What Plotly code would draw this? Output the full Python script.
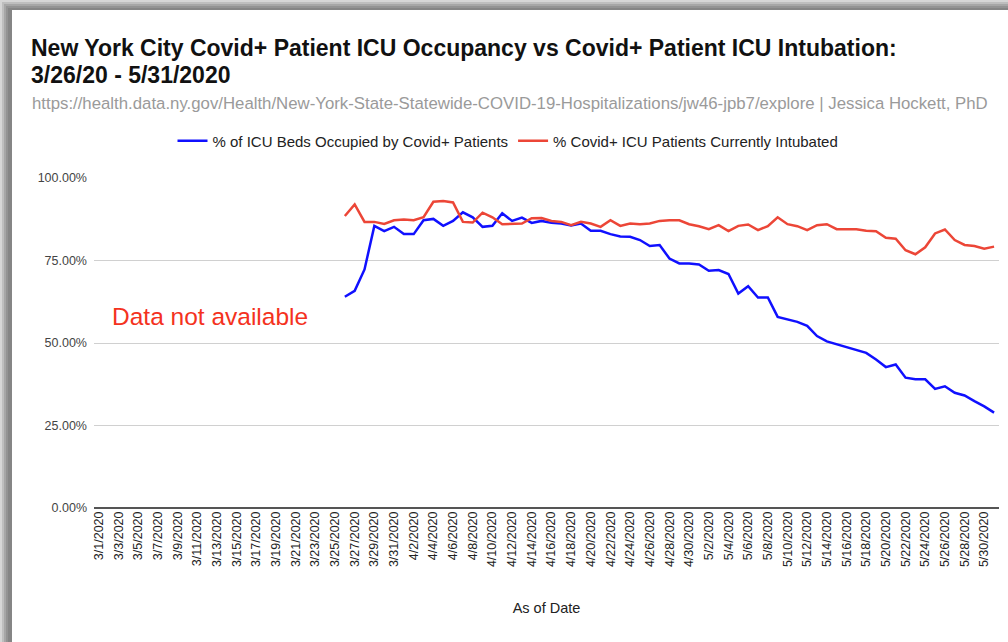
import datetime as dt
import plotly.graph_objects as go

# ---------------- data ----------------
start = dt.date(2020, 3, 1)
dates = [f"{d.month}/{d.day}/{d.year}" for d in (start + dt.timedelta(days=i) for i in range(92))]

# values from 3/26/2020 to 5/31/2020 (earlier days: data not available)
icu_occupied = [
    64.0, 65.8, 72.3, 85.5, 83.9, 85.2, 83.0, 83.0, 87.2, 87.6,   # 3/26 - 4/4
    85.5, 87.0, 89.6, 88.1, 85.2, 85.5, 89.3, 87.0, 88.0, 86.4,   # 4/5 - 4/14
    87.0, 86.4, 86.2, 85.6, 86.2, 84.0, 84.0, 83.0, 82.3, 82.2,   # 4/15 - 4/24
    81.2, 79.4, 79.7, 75.6, 74.1, 74.1, 73.8, 71.9, 72.1, 70.9,   # 4/25 - 5/4
    65.0, 67.2, 63.8, 63.8, 57.9, 57.1, 56.4, 55.2, 52.1, 50.5,   # 5/5 - 5/14
    49.6, 48.6, 47.8, 47.0, 45.0, 42.7, 43.5, 39.5, 39.0, 39.0,   # 5/15 - 5/24
    36.1, 36.9, 34.9, 34.1, 32.4, 30.8, 28.9,                     # 5/25 - 5/31
]
icu_intubated = [
    88.5, 92.0, 86.7, 86.7, 86.1, 87.2, 87.4, 87.2, 88.1, 92.8,   # 3/26 - 4/4
    93.0, 92.6, 86.7, 86.5, 89.5, 88.1, 86.0, 86.2, 86.2, 87.8,   # 4/5 - 4/14
    87.9, 87.0, 86.7, 85.7, 86.7, 86.2, 85.2, 87.2, 85.5, 86.2,   # 4/15 - 4/24
    86.0, 86.2, 87.0, 87.2, 87.2, 86.0, 85.4, 84.5, 85.7, 83.9,   # 4/25 - 5/4
    85.5, 85.9, 84.2, 85.4, 88.1, 86.0, 85.4, 84.2, 85.7, 86.0,   # 5/5 - 5/14
    84.5, 84.5, 84.5, 84.0, 83.9, 81.9, 81.6, 78.1, 76.9, 79.0,   # 5/15 - 5/24
    83.2, 84.4, 81.2, 79.7, 79.4, 78.6, 79.2,                     # 5/25 - 5/31
]
missing_days = len(dates) - len(icu_occupied)
y_blue = [None] * missing_days + icu_occupied
y_red = [None] * missing_days + icu_intubated

y_ticks = [0, 25, 50, 75, 100]
x_ticks = dates[::2]

series_names = ["% of ICU Beds Occupied by Covid+ Patients",
                "% Covid+ ICU Patients Currently Intubated"]

# ---------------- layout helpers ----------------
W, H = 1008, 642
L, R, T, B = 94, 9, 178, 134
PW, PH = W - L - R, H - T - B


def px(x):
    return (x - L) / PW


def py(y):
    return (H - B - y) / PH


FONT = "Liberation Sans, Arial, sans-serif"

fig = go.Figure()
fig.add_trace(go.Scatter(x=dates, y=y_blue, mode="lines", name=series_names[0],
                         line=dict(color="#1010ff", width=2.5), connectgaps=False))
fig.add_trace(go.Scatter(x=dates, y=y_red, mode="lines", name=series_names[1],
                         line=dict(color="#ec4637", width=2.5), connectgaps=False))

# frame with drop shadow
shapes = []
shade = [("#d6d6d6", 0, 0), ("#bebebe", 2, 2), ("#a6a6a6", 4, 4), ("#939393", 6, 6),
         ("#858585", 8, 8), ("#ffffff", 12, 10)]
for col, x0, y0 in shade:
    shapes.append(dict(type="rect", xref="paper", yref="paper", layer="below",
                       x0=px(x0), x1=px(W + 2), y0=py(y0), y1=py(H + 2),
                       fillcolor=col, line=dict(width=0)))

ann_common = dict(xref="paper", yref="paper", showarrow=False, xanchor="left", yanchor="middle")
annotations = [
    dict(text="<b>New York City Covid+ Patient ICU Occupancy vs Covid+ Patient ICU Intubation:</b>",
         x=px(29), y=py(48), font=dict(family=FONT, size=23, color="#111111"), **ann_common),
    dict(text="<b>3/26/20 - 5/31/2020</b>",
         x=px(29), y=py(75), font=dict(family=FONT, size=23, color="#111111"), **ann_common),
    dict(text="https://health.data.ny.gov/Health/New-York-State-Statewide-COVID-19-Hospitalizations/jw46-jpb7/explore | Jessica Hockett, PhD",
         x=px(30), y=py(103), font=dict(family=FONT, size=16.8, color="#9a9a9a"), **ann_common),
    dict(text="Data not available", x=px(110), y=py(316),
         font=dict(family=FONT, size=24.5, color="#f4321e"), **ann_common),
]

fig.update_layout(
    width=W, height=H,
    margin=dict(l=L, r=R, t=T, b=B, autoexpand=False),
    paper_bgcolor="#ffffff", plot_bgcolor="#ffffff",
    font=dict(family=FONT, color="#222222"),
    showlegend=True,
    legend=dict(orientation="h", x=px(508), y=py(141), xanchor="center", yanchor="middle",
                font=dict(family=FONT, size=15, color="#222222"), bgcolor="rgba(0,0,0,0)",
                itemwidth=30, tracegroupgap=0),
    shapes=shapes,
    annotations=annotations,
)

fig.update_xaxes(
    type="category", categoryorder="array", categoryarray=dates,
    range=[-0.5, len(dates) - 0.5],
    tickmode="array", tickvals=x_ticks, ticktext=x_ticks,
    tickangle=-90, tickfont=dict(family=FONT, size=12.5, color="#222222"),
    showgrid=False, showline=False, zeroline=False, ticks="",
    title=dict(text="As of Date", font=dict(family=FONT, size=14.5, color="#222222"), standoff=36),
)
fig.update_yaxes(
    range=[0, 100], tickmode="array", tickvals=y_ticks,
    ticktext=[f"{v:.2f}%" for v in y_ticks],
    tickfont=dict(family=FONT, size=12.5, color="#444444"),
    showgrid=True, gridcolor="#d0d0d0", gridwidth=1,
    zeroline=True, zerolinecolor="#555555", zerolinewidth=1.5,
    showline=False, ticks="", ticklabelstandoff=6,
)

fig.write_html(
    "out.html",
    config={"displayModeBar": False},
    post_script=("document.documentElement.style.background='#ffffff';"
                 "document.body.style.background='#ffffff';"
                 "document.body.style.margin='0';"
                 "document.documentElement.style.overflow='hidden';"
                 "document.body.style.overflow='hidden';"),
)
